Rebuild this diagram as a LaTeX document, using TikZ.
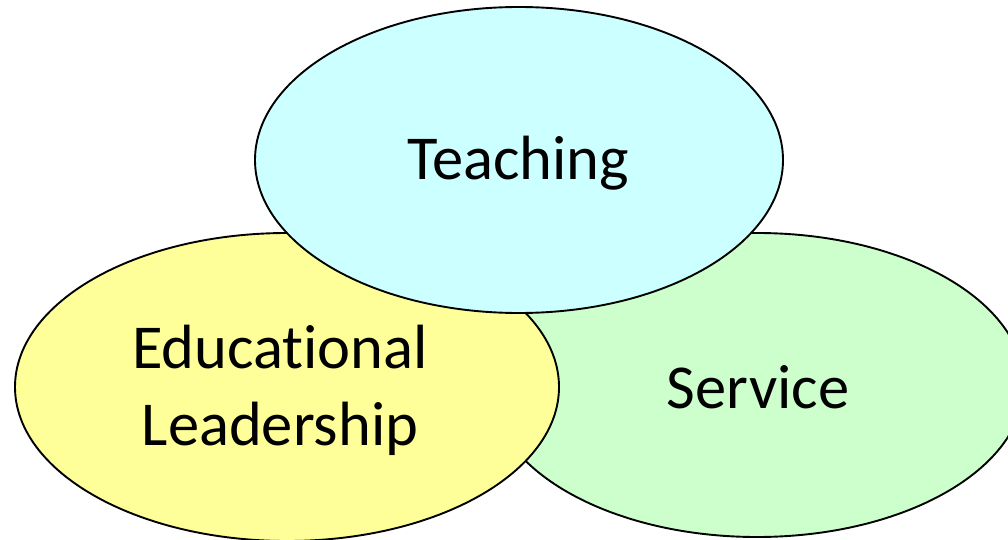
\documentclass[tikz,border=0pt]{standalone}
\usepackage{fontspec}
\setmainfont[Ligatures=NoCommon]{Carlito}
\definecolor{teachc}{HTML}{CCFFFF}
\definecolor{leadc}{HTML}{FFFF99}
\definecolor{servc}{HTML}{CCFFCC}
\begin{document}
\begin{tikzpicture}[x=1pt,y=-1pt,
  bubble/.style={draw=black,line width=1.9pt},
  lbl/.style={font=\fontsize{62.5}{77}\selectfont,align=center,text=black}]
\useasboundingbox (0,0) rectangle (1008,540);
\begin{scope}
\clip (0,0) rectangle (1008,540);
\fill[servc] (757,385) ellipse [x radius=267,y radius=152];
\draw[bubble] (757,385) ellipse [x radius=267,y radius=152];
\fill[leadc] (287,387) ellipse [x radius=272,y radius=154];
\draw[bubble] (287,387) ellipse [x radius=272,y radius=154];
\fill[teachc] (519,160) ellipse [x radius=264,y radius=153];
\draw[bubble] (519,160) ellipse [x radius=264,y radius=153];
\end{scope}
\node[lbl] (teach) at (518,163) {Teaching};
\node[lbl] (lead) at (280,390) {Educational\\Leadership};
\node[lbl] (serv) at (758,387) {Service};
\end{tikzpicture}
\end{document}
